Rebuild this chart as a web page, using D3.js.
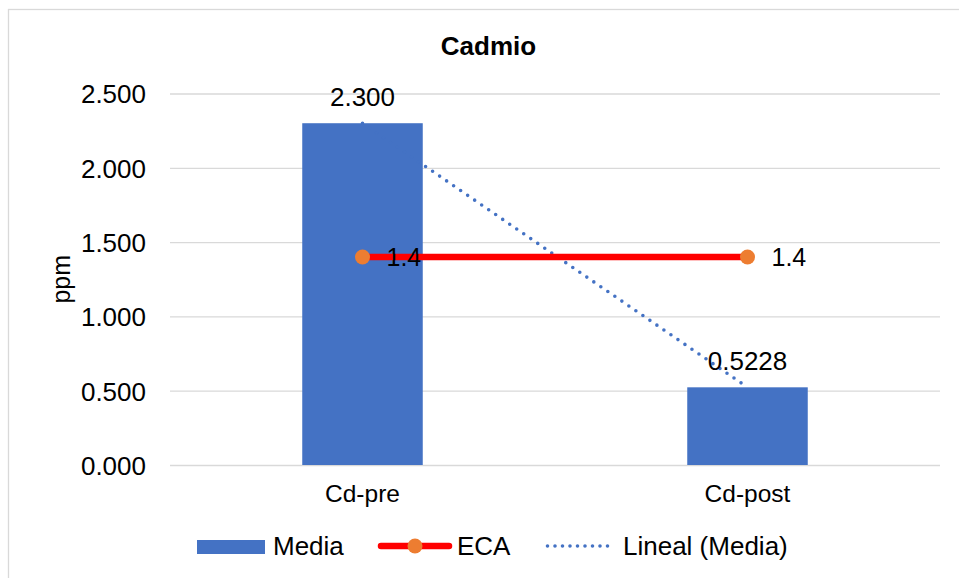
<!DOCTYPE html>
<html>
<head>
<meta charset="utf-8">
<script src="https://cdn.jsdelivr.net/npm/d3@7/dist/d3.min.js"></script>
<style>
  html, body { margin: 0; padding: 0; background: #fff; }
  svg { display: block; font-family: "Liberation Sans", Arial, sans-serif; }
</style>
</head>
<body>
<svg id="chart" width="959" height="578"></svg>
<script>
const categories = ["Cd-pre", "Cd-post"];
const media = [2.3, 0.5228];
const mediaLabels = ["2.300", "0.5228"];
const eca = [1.4, 1.4];
const ecaLabels = ["1.4", "1.4"];
const yTicks = [0, 0.5, 1.0, 1.5, 2.0, 2.5];
const title = "Cadmio";
const yTitle = "ppm";
const legendNames = ["Media", "ECA", "Lineal (Media)"];

const svg = d3.select("#chart");
const W = 959, H = 578;
const plot = { left: 170, right: 940, top: 93.5, bottom: 465 };

// chart border
svg.append("rect").attr("x", 8.5).attr("y", 9.5).attr("width", W + 10).attr("height", H + 10)
  .attr("fill", "#fff").attr("stroke", "#d9d9d9").attr("stroke-width", 1.3);

const x = d3.scaleBand().domain(categories).range([plot.left, plot.right]).padding(0);
const y = d3.scaleLinear().domain([0, 2.5]).range([plot.bottom, plot.top]);
const barW = x.bandwidth() * 0.313;
const cx = d => x(d) + x.bandwidth() / 2;

// gridlines + y labels
const yAxis = d3.axisLeft(y).tickValues(yTicks).tickFormat(d3.format(".3f"))
  .tickSize(-(plot.right - plot.left)).tickPadding(24);
const gy = svg.append("g").attr("transform", `translate(${plot.left},0)`).call(yAxis);
gy.select(".domain").remove();
gy.selectAll(".tick line").attr("stroke", "#d9d9d9").attr("stroke-width", 1.3);
gy.selectAll(".tick text").attr("font-size", 26).attr("fill", "#000")
  .attr("font-family", "Liberation Sans, Arial, sans-serif").attr("dy", "0.36em");

// bars
svg.append("g").selectAll("rect").data(categories).join("rect")
  .attr("x", d => cx(d) - barW / 2)
  .attr("width", barW)
  .attr("y", (d, i) => y(media[i]))
  .attr("height", (d, i) => y(0) - y(media[i]))
  .attr("fill", "#4472C4");

// trendline (linear fit of media over x = 1..n)
const xs = media.map((d, i) => i + 1);
const mx = d3.mean(xs), my = d3.mean(media);
const slope = d3.sum(xs.map((xi, i) => (xi - mx) * (media[i] - my))) / d3.sum(xs.map(xi => (xi - mx) ** 2));
const icpt = my - slope * mx;
const trend = categories.map((c, i) => [cx(c), y(icpt + slope * (i + 1))]);
svg.append("path").attr("d", d3.line()(trend)).attr("fill", "none")
  .attr("stroke", "#4472C4").attr("stroke-width", 3.6).attr("stroke-linecap", "round")
  .attr("stroke-dasharray", "0,8.5");

// ECA line
svg.append("path").attr("d", d3.line()(categories.map((c, i) => [cx(c), y(eca[i])])))
  .attr("fill", "none").attr("stroke", "#FF0000").attr("stroke-width", 6.5);
svg.append("g").selectAll("circle").data(categories).join("circle")
  .attr("cx", d => cx(d)).attr("cy", (d, i) => y(eca[i])).attr("r", 7.5).attr("fill", "#ED7D31");

// data labels
svg.append("g").selectAll("text").data(categories).join("text")
  .attr("x", d => cx(d)).attr("y", (d, i) => y(media[i]) - 17.5)
  .attr("text-anchor", "middle").attr("font-size", 26).text((d, i) => mediaLabels[i]);
svg.append("g").selectAll("text").data(categories).join("text")
  .attr("x", d => cx(d) + 24).attr("y", (d, i) => y(eca[i]) + 9.5)
  .attr("font-size", 25).text((d, i) => ecaLabels[i]);

// x labels
svg.append("g").selectAll("text").data(categories).join("text")
  .attr("x", d => cx(d)).attr("y", 502)
  .attr("text-anchor", "middle").attr("font-size", 24.5).text(d => d);

// title
svg.append("text").attr("x", 488.5).attr("y", 55).attr("text-anchor", "middle")
  .attr("font-size", 26).attr("font-weight", "bold").text(title);

// y title
svg.append("text").attr("transform", `translate(70,${(plot.top + plot.bottom) / 2}) rotate(-90)`)
  .attr("text-anchor", "middle").attr("font-size", 25).text(yTitle);

// legend
const ly = 547;
const lg = svg.append("g");
lg.append("rect").attr("x", 197).attr("y", ly - 7).attr("width", 68).attr("height", 14).attr("fill", "#4472C4");
lg.append("text").attr("x", 273).attr("y", ly + 7.5).attr("font-size", 26).text(legendNames[0]);
lg.append("line").attr("x1", 381).attr("x2", 449).attr("y1", ly - 1).attr("y2", ly - 1)
  .attr("stroke", "#FF0000").attr("stroke-width", 6.5).attr("stroke-linecap", "round");
lg.append("circle").attr("cx", 415).attr("cy", ly - 1).attr("r", 7.5).attr("fill", "#ED7D31");
lg.append("text").attr("x", 457).attr("y", ly + 7.5).attr("font-size", 26).text(legendNames[1]);
lg.append("line").attr("x1", 547.5).attr("x2", 615).attr("y1", ly - 1).attr("y2", ly - 1)
  .attr("stroke", "#4472C4").attr("stroke-width", 3.6).attr("stroke-linecap", "round")
  .attr("stroke-dasharray", "0,7.5");
lg.append("text").attr("x", 623).attr("y", ly + 7.5).attr("font-size", 26).text(legendNames[2]);
</script>
</body>
</html>
